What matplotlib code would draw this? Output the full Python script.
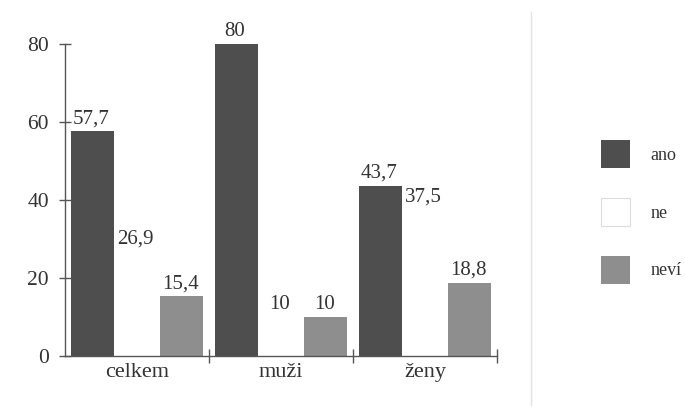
import matplotlib.pyplot as plt
from matplotlib.patches import Patch
from matplotlib.lines import Line2D
import numpy as np

# data
categories = ['celkem', 'muži', 'ženy']
series = ['ano', 'ne', 'neví']
ano = [57.7, 80, 43.7]
ne = [26.9, 10, 37.5]
nevi = [15.4, 10, 18.8]
y_ticks = [0, 20, 40, 60, 80]

colors = ['#4e4e4e', '#ffffff', '#8e8e8e']
text_col = '#333333'
line_col = '#555555'

plt.rcParams['font.family'] = ['Liberation Serif', 'DejaVu Serif']

fig = plt.figure(figsize=(6.85, 4.07), dpi=100)
ax = fig.add_axes([65 / 685, 1 - 356 / 407, 432 / 685, 312 / 407])

x = np.arange(len(categories))
width = 0.30
offsets = [-0.31, 0.0, 0.31]

for vals, off, col in zip([ano, ne, nevi], offsets, colors):
    bars = ax.bar(x + off, vals, width, color=col, edgecolor='none', zorder=2)
    for b, v in zip(bars, vals):
        ax.annotate(f'{v:g}'.replace('.', ','),
                    (b.get_x() + b.get_width() / 2, v),
                    xytext=(-1, 2), textcoords='offset points',
                    ha='center', va='bottom', fontsize=15, color=text_col)

ax.set_xlim(-0.5, 2.5)
ax.set_ylim(0, 80)

for s in ['top', 'right']:
    ax.spines[s].set_visible(False)
for s in ['left', 'bottom']:
    ax.spines[s].set_color(line_col)
    ax.spines[s].set_linewidth(1.0)

ax.set_yticks(y_ticks)
ax.set_yticklabels([str(t) for t in y_ticks])
ax.tick_params(axis='y', direction='inout', length=9, width=1.0,
               color=line_col, labelsize=15.5, labelcolor=text_col, pad=7)

# group boundaries as major ticks, category names as minor ticks
ax.set_xticks([0.5, 1.5, 2.5])
ax.set_xticklabels(['', '', ''])
ax.set_xticks(x, minor=True)
ax.set_xticklabels(categories, minor=True)
ax.tick_params(axis='x', which='major', direction='inout', length=10,
               width=1.0, color=line_col)
ax.tick_params(axis='x', which='minor', length=0, labelsize=16,
               labelcolor=text_col, pad=5)

# faint separator line between plot and legend
fig.add_artist(Line2D([531 / 685, 531 / 685], [1 - 12 / 407, 1 - 405 / 407],
                      transform=fig.transFigure, color='#e3e3e3', lw=1))

handles = [Patch(facecolor=colors[0], edgecolor='none'),
           Patch(facecolor=colors[1], edgecolor='#dcdcdc', linewidth=0.8),
           Patch(facecolor=colors[2], edgecolor='none')]
fig.legend(handles, series, loc='center left',
           bbox_to_anchor=(601 / 685, 1 - 212 / 407),
           frameon=False, borderpad=0, borderaxespad=0, fontsize=13,
           handlelength=1.6, handleheight=2.0, labelspacing=1.65,
           handletextpad=1.15, labelcolor=text_col)

fig.savefig('out.png', dpi=100)
